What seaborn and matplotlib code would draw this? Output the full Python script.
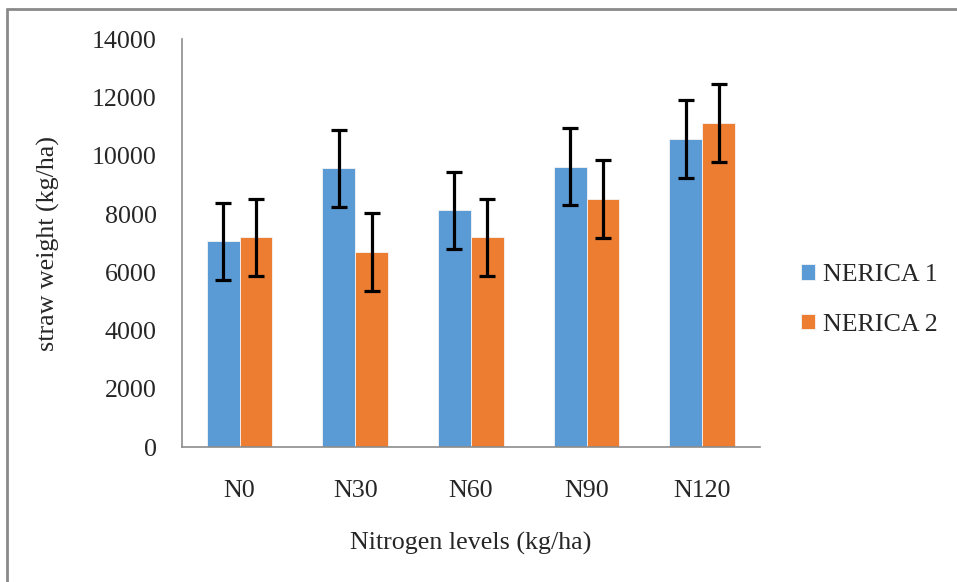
import pandas as pd
import seaborn as sns
import matplotlib.pyplot as plt
from matplotlib.lines import Line2D
from matplotlib.ticker import FixedLocator

levels = ["N0", "N30", "N60", "N90", "N120"]
varieties = ["NERICA 1", "NERICA 2"]
nerica1 = [7060, 9570, 8130, 9630, 10570]
nerica2 = [7200, 6690, 7200, 8510, 11130]
err1 = [1330, 1330, 1330, 1330, 1330]
err2 = [1330, 1330, 1330, 1330, 1330]
yticks = [0, 2000, 4000, 6000, 8000, 10000, 12000, 14000]

df = pd.DataFrame({
    "level": levels * 2,
    "variety": [varieties[0]] * 5 + [varieties[1]] * 5,
    "weight": nerica1 + nerica2,
    "err": err1 + err2,
})

sns.set_style("white")
plt.rcParams["font.family"] = ["Liberation Serif", "DejaVu Serif"]
plt.rcParams["font.size"] = 18.7

fig = plt.figure(figsize=(9.57, 5.82), dpi=100)
ax = fig.add_axes([181.7 / 957, 1 - 447 / 582, (760 - 181.7) / 957, (447 - 39.3) / 582])

palette = {"NERICA 1": "#5B9BD5", "NERICA 2": "#ED7D31"}
sns.barplot(data=df, x="level", y="weight", hue="variety", order=levels,
            hue_order=varieties, palette=palette, width=0.567, gap=0,
            errorbar=None, saturation=1, edgecolor="#f4f4f4", linewidth=0.6, ax=ax)

# error bars on top of each bar
bars = [p for p in ax.patches if p.get_height() > 0]
bars = sorted(bars, key=lambda p: p.get_x())
errs = []
for i in range(5):
    errs += [err1[i], err2[i]]
xs = [p.get_x() + p.get_width() / 2 for p in bars]
hs = [p.get_height() for p in bars]
ax.errorbar(xs, hs, yerr=errs, fmt="none", ecolor="black", elinewidth=2.3,
            capsize=5.5, capthick=2.3, zorder=5)

ax.set_ylim(0, 14000)
ax.set_xlim(-0.5, 4.5)
ax.set_yticks(yticks)
ax.set_yticklabels([str(v) for v in yticks])
ax.set_xticks(range(5))
ax.set_xticklabels(levels)
ax.xaxis.set_minor_locator(FixedLocator([i - 0.5 for i in range(6)]))
ax.tick_params(axis="x", which="major", length=0, pad=24)
ax.tick_params(axis="x", which="minor", length=7, width=1, color="#8c8c8c", direction="out")
ax.tick_params(axis="y", length=7, width=1, color="#8c8c8c", direction="out", pad=11)

for s in ["top", "right"]:
    ax.spines[s].set_visible(False)
for s in ["left", "bottom"]:
    ax.spines[s].set_color("#8c8c8c")
    ax.spines[s].set_linewidth(1.2)

ax.set_xlabel("Nitrogen levels (kg/ha)", labelpad=21)
ax.set_ylabel("straw weight (kg/ha)", labelpad=23)

ax.legend(loc="center left", bbox_to_anchor=(800.7 / 957, 1 - 300 / 582),
          bbox_transform=fig.transFigure, frameon=False, borderpad=0,
          borderaxespad=0, handlelength=0.55, handleheight=0.55,
          handletextpad=0.3, labelspacing=1.05)

# outer chart border (left and top visible)
fig.add_artist(Line2D([7 / 957, 7 / 957], [0, 1 - 9 / 582], transform=fig.transFigure,
                      color="#8a8a8a", linewidth=2))
fig.add_artist(Line2D([7 / 957, 1], [1 - 9 / 582, 1 - 9 / 582], transform=fig.transFigure,
                      color="#8a8a8a", linewidth=2))

fig.savefig("out.png", dpi=100)
